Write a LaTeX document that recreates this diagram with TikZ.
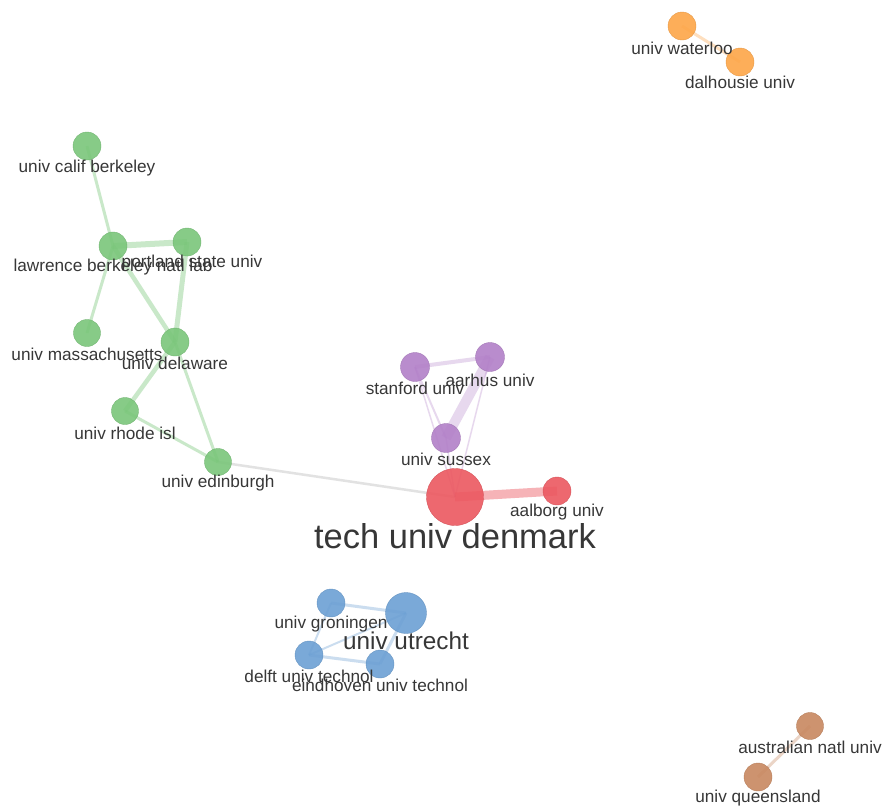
\documentclass[tikz,border=0pt]{standalone}
\usepackage{fontspec}
\setmainfont{Liberation Sans}
\begin{document}
\begin{tikzpicture}[x=1pt,y=-1pt,
  vnode/.style={circle,inner sep=0pt,minimum size=#1,fill opacity=0.9,draw opacity=0.9},
  green/.style={fill=cgreen,draw=cgreen!90!black},
  orange/.style={fill=corange,draw=corange!90!black},
  purple/.style={fill=cpurple,draw=cpurple!90!black},
  red/.style={fill=cred,draw=cred!90!black},
  blue/.style={fill=cblue,draw=cblue!90!black},
  brown/.style={fill=cbrown,draw=cbrown!90!black},
  lbl/.style={text=ctext,font=\fontsize{17.2}{20}\selectfont,inner sep=0pt},
  edge/.style={line width=#1,line cap=butt},
  gedge/.style={edge=#1,draw=cgreen,draw opacity=0.4},
  pedge/.style={edge=#1,draw=cpurple,draw opacity=0.3},
  bedge/.style={edge=#1,draw=cblue,draw opacity=0.35},
  redge/.style={edge=#1,draw=cred,draw opacity=0.45},
  oedge/.style={edge=#1,draw=corange,draw opacity=0.35},
  bredge/.style={edge=#1,draw=cbrown,draw opacity=0.35},
  grayedge/.style={edge=#1,draw=black!25,draw opacity=0.45}
]
\definecolor{cgreen}{RGB}{122,198,122}
\definecolor{corange}{RGB}{253,166,72}
\definecolor{cpurple}{RGB}{178,128,200}
\definecolor{cred}{RGB}{236,88,96}
\definecolor{cblue}{RGB}{108,160,212}
\definecolor{cbrown}{RGB}{200,136,96}
\definecolor{ctext}{RGB}{55,55,55}
\fill[white] (0,0) rectangle (885,806);
\useasboundingbox (0,0) rectangle (885,806);

% node centres
\coordinate (waterloo) at (682,26);
\coordinate (dalhousie) at (740,62);
\coordinate (calif) at (87,146);
\coordinate (lawrence) at (113,246);
\coordinate (portland) at (187,242);
\coordinate (mass) at (87,333);
\coordinate (delaware) at (175,342);
\coordinate (rhode) at (125,411);
\coordinate (edinburgh) at (218,462);
\coordinate (stanford) at (415,367);
\coordinate (aarhus) at (490,357);
\coordinate (sussex) at (446,438);
\coordinate (tech) at (455,497);
\coordinate (aalborg) at (557,491);
\coordinate (groningen) at (331,603);
\coordinate (utrecht) at (406,613);
\coordinate (delft) at (309,655);
\coordinate (eindhoven) at (380,664);
\coordinate (anu) at (810,726);
\coordinate (queensland) at (758,777);

% edges
\draw[oedge=3] (waterloo) -- (dalhousie);
\draw[bredge=3] (anu) -- (queensland);
\draw[gedge=3] (calif) -- (lawrence);
\draw[gedge=6] (lawrence) -- (portland);
\draw[gedge=3] (lawrence) -- (mass);
\draw[gedge=4.5] (lawrence) -- (delaware);
\draw[gedge=5] (portland) -- (delaware);
\draw[gedge=4.5] (delaware) -- (rhode);
\draw[gedge=3] (delaware) -- (edinburgh);
\draw[gedge=3] (rhode) -- (edinburgh);
\draw[grayedge=2.5] (edinburgh) -- (tech);
\draw[pedge=4] (stanford) -- (aarhus);
\draw[pedge=10] (aarhus) -- (sussex);
\draw[pedge=2] (stanford) -- (sussex);
\draw[pedge=1.5] (stanford) -- (tech);
\draw[pedge=1.5] (aarhus) -- (tech);
\draw[pedge=1.5] (sussex) -- (tech);
\draw[redge=9] (tech) -- (aalborg);
\draw[bedge=3] (groningen) -- (utrecht);
\draw[bedge=2] (groningen) -- (delft);
\draw[bedge=2] (delft) -- (utrecht);
\draw[bedge=3] (delft) -- (eindhoven);
\draw[bedge=3] (eindhoven) -- (utrecht);

% circles
\node[vnode=28,orange] (nwaterloo) at (waterloo) {};
\node[vnode=28,orange] (ndalhousie) at (dalhousie) {};
\node[vnode=28,green] (ncalif) at (calif) {};
\node[vnode=28,green] (nlawrence) at (lawrence) {};
\node[vnode=28,green] (nportland) at (portland) {};
\node[vnode=27,green] (nmass) at (mass) {};
\node[vnode=28,green] (ndelaware) at (delaware) {};
\node[vnode=27,green] (nrhode) at (rhode) {};
\node[vnode=27,green] (nedinburgh) at (edinburgh) {};
\node[vnode=29,purple] (nstanford) at (stanford) {};
\node[vnode=29,purple] (naarhus) at (aarhus) {};
\node[vnode=29,purple] (nsussex) at (sussex) {};
\node[vnode=57,red] (ntech) at (tech) {};
\node[vnode=28,red] (naalborg) at (aalborg) {};
\node[vnode=28,blue] (ngroningen) at (groningen) {};
\node[vnode=41,blue] (nutrecht) at (utrecht) {};
\node[vnode=28,blue] (ndelft) at (delft) {};
\node[vnode=28,blue] (neindhoven) at (eindhoven) {};
\node[vnode=27,brown] (nanu) at (anu) {};
\node[vnode=28,brown] (nqueensland) at (queensland) {};

% labels
\node[lbl] (lwaterloo) at (682,48) {univ waterloo};
\node[lbl] (ldalhousie) at (740,82) {dalhousie univ};
\node[lbl] (lcalif) at (87,168) {univ calif berkeley};
\node[lbl] (llawrence) at (113,267) {lawrence berkeley natl lab};
\node[lbl] (lportland) at (192,263) {portland state univ};
\node[lbl] (lmass) at (87,354) {univ massachusetts};
\node[lbl] (ldelaware) at (175,363) {univ delaware};
\node[lbl] (lrhode) at (125,433) {univ rhode isl};
\node[lbl] (ledinburgh) at (218,483) {univ edinburgh};
\node[lbl] (lstanford) at (415,388) {stanford univ};
\node[lbl] (laarhus) at (490,380) {aarhus univ};
\node[lbl] (lsussex) at (446,459) {univ sussex};
\node[lbl,font=\fontsize{34.5}{40}\selectfont] (ltech) at (455,536) {tech univ denmark};
\node[lbl] (laalborg) at (557,512) {aalborg univ};
\node[lbl] (lgroningen) at (331,624) {univ groningen};
\node[lbl,font=\fontsize{24.3}{28}\selectfont] (lutrecht) at (406,641) {univ utrecht};
\node[lbl] (ldelft) at (309,676) {delft univ technol};
\node[lbl] (leindhoven) at (380,685) {eindhoven univ technol};
\node[lbl] (lanu) at (810,747) {australian natl univ};
\node[lbl] (lqueensland) at (758,798) {univ queensland};
\end{tikzpicture}
\end{document}
